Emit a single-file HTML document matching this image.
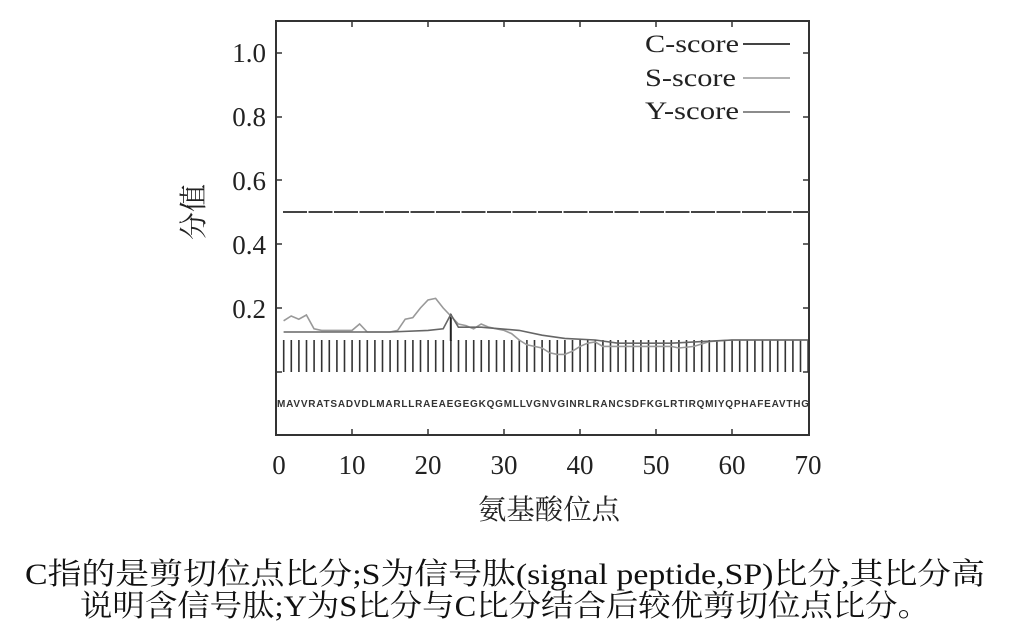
<!DOCTYPE html>
<html><head><meta charset="utf-8"><style>
html,body{margin:0;padding:0;background:#fff;}
svg{display:block;}
</style></head><body>
<svg width="1011" height="640" viewBox="0 0 1011 640" xmlns="http://www.w3.org/2000/svg">
<g font-family="'Liberation Serif','Noto Serif CJK SC',serif" fill="#222">
<rect x="276" y="21" width="533" height="414" fill="none" stroke="#333" stroke-width="2"/>
<g stroke="#333" stroke-width="1.5">
<path d="M352 435v-6M428 435v-6M504 435v-6M580 435v-6M656 435v-6M732 435v-6M352 21v6M428 21v6M504 21v6M580 21v6M656 21v6M732 21v6"/>
<path d="M276 53h6M276 117h6M276 180h6M276 244h6M276 308h6M276 372h6M809 53h-6M809 117h-6M809 180h-6M809 244h-6M809 308h-6M809 372h-6"/>
</g>
<g font-size="27" text-anchor="end">
<text x="266" y="62">1.0</text>
<text x="266" y="126">0.8</text>
<text x="266" y="190">0.6</text>
<text x="266" y="254">0.4</text>
<text x="266" y="318">0.2</text>
</g>
<g font-size="27" text-anchor="middle">
<text x="279" y="474">0</text><text x="352" y="474">10</text><text x="428" y="474">20</text><text x="504" y="474">30</text><text x="580" y="474">40</text><text x="656" y="474">50</text><text x="732" y="474">60</text><text x="808" y="474">70</text>
</g>
<text x="549" y="519" font-size="28" text-anchor="middle" textLength="142" lengthAdjust="spacingAndGlyphs">氨基酸位点</text>
<text transform="translate(203,212) rotate(-90)" font-size="28" text-anchor="middle">分值</text>
<g font-size="25" text-anchor="end">
<text x="739" y="52" textLength="94" lengthAdjust="spacingAndGlyphs">C-score</text>
<text x="736" y="86" textLength="91" lengthAdjust="spacingAndGlyphs">S-score</text>
<text x="739" y="119" textLength="94" lengthAdjust="spacingAndGlyphs">Y-score</text>
</g>
<line x1="743" y1="44" x2="790" y2="44" stroke="#444" stroke-width="2"/>
<line x1="743" y1="78" x2="790" y2="78" stroke="#999" stroke-width="1.5"/>
<line x1="743" y1="112" x2="790" y2="112" stroke="#666" stroke-width="1.5"/>
<line x1="283" y1="212" x2="809" y2="212" stroke="#444" stroke-width="2" stroke-dasharray="24 1.5"/>
<line x1="282.9" y1="356" x2="809" y2="356" stroke="#333" stroke-width="32" stroke-dasharray="1.6 6"/>
<line x1="450.8" y1="314" x2="450.8" y2="341" stroke="#222" stroke-width="2"/>
<polyline fill="none" stroke="#999" stroke-width="1.6" points="283.6,320.8 291.2,316 298.8,319.2 306.4,315 314,328.8 321.6,330.4 352,330.4 359.6,324 367.2,332 390,332 397.6,330.4 405.2,319.2 412.8,317.6 420.4,308 428,300 435.6,298.4 443.2,308 450.8,316 458.4,324 466,325.6 473.6,328.8 481.2,324 488.8,327.2 496.4,328.8 504,330.4 511.6,333.6 519.2,340 526.8,344.8 534.4,346.4 542,348 549.6,352.8 557.2,354.4 564.8,354.4 572.4,351.2 580,346.4 587.6,343.2 595.2,342 602.8,346.4 671.2,346.4 678.8,348 694,346.4 709.2,341.6 732,340 808,340"/>
<polyline fill="none" stroke="#666" stroke-width="1.6" points="283.6,332 390,332 428,330.4 443.2,328.8 450.8,314.4 458.4,327.2 481.2,327.2 519.2,330.4 542,335.2 564.8,338.4 595.2,340 618,343.2 671.2,343.2 701.6,341.6 732,340 808,340"/>
<text x="543" y="407" font-family="'Liberation Sans',sans-serif" font-size="10" font-weight="bold" text-anchor="middle" textLength="532" lengthAdjust="spacing" fill="#333">MAVVRATSADVDLMARLLRAEAEGEGKQGMLLVGNVGINRLRANCSDFKGLRTIRQMIYQPHAFEAVTHG</text>
<g font-size="30" fill="#111">
<text x="25" y="584" textLength="960" lengthAdjust="spacingAndGlyphs">C指的是剪切位点比分;S为信号肽(signal peptide,SP)比分,其比分高</text>
<text x="80" y="616" textLength="850" lengthAdjust="spacingAndGlyphs">说明含信号肽;Y为S比分与C比分结合后较优剪切位点比分。</text>
</g>
</g>
</svg>
</body></html>
